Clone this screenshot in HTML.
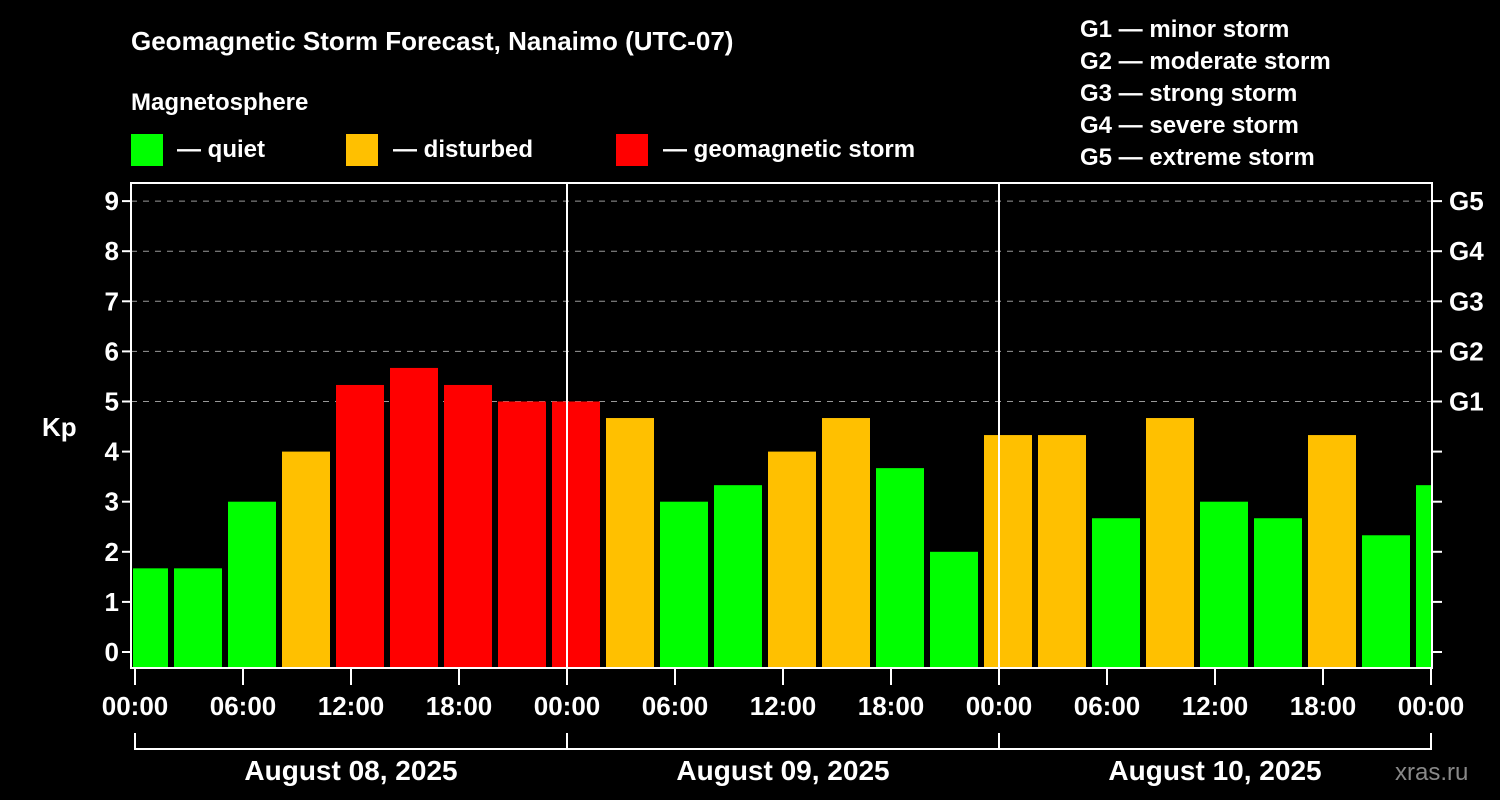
<!DOCTYPE html>
<html><head><meta charset="utf-8"><style>
html,body{margin:0;padding:0;background:#000;width:1500px;height:800px;overflow:hidden}
svg text{font-family:"Liberation Sans",sans-serif;font-weight:bold;fill:#fff}
</style></head><body>
<svg id="chart" width="1500" height="800" xmlns="http://www.w3.org/2000/svg">
<text x="131" y="50" font-size="26">Geomagnetic Storm Forecast, Nanaimo (UTC-07)</text>
<text x="131" y="110" font-size="24">Magnetosphere</text>
<g><rect x="131" y="134" width="32" height="32" fill="#00ff00"/><text x="177" y="157" font-size="24">— quiet</text></g>
<g><rect x="346" y="134" width="32" height="32" fill="#ffc000"/><text x="393" y="157" font-size="24">— disturbed</text></g>
<g><rect x="616" y="134" width="32" height="32" fill="#ff0000"/><text x="663" y="157" font-size="24">— geomagnetic storm</text></g>
<g font-size="24">
<text x="1080" y="37">G1 — minor storm</text>
<text x="1080" y="69">G2 — moderate storm</text>
<text x="1080" y="101">G3 — strong storm</text>
<text x="1080" y="133">G4 — severe storm</text>
<text x="1080" y="165">G5 — extreme storm</text>
</g>
<text x="42" y="436" font-size="26">Kp</text>
<text x="1395" y="780" font-size="24" fill="#888" style="fill:#888;font-weight:normal">xras.ru</text>
<g id="grid"></g><g id="bars"></g><g id="axes"></g>
</svg>
<script>
const kpValues=[1.67,1.67,3,4,5.33,5.67,5.33,5,5,4.67,3,3.33,4,4.67,3.67,2,4.33,4.33,2.67,4.67,3,2.67,4.33,2.33,3.33];
const yTicks=[0,1,2,3,4,5,6,7,8,9];
const gLabels=["G1","G2","G3","G4","G5"];
const xTickLabels=["00:00","06:00","12:00","18:00","00:00","06:00","12:00","18:00","00:00","06:00","12:00","18:00","00:00"];
const dayLabels=["August 08, 2025","August 09, 2025","August 10, 2025"];
const firstBarHour=-1; // local hour of first 3h block start
const NS="http://www.w3.org/2000/svg";
const L=131,R=1432,T=183,B=668,X0=135,PXH=18;
const xOf=h=>X0+h*PXH;
const yOf=v=>652-v*50.1;
function mk(tag,attrs,parent,txt){const e=document.createElementNS(NS,tag);for(const k in attrs)e.setAttribute(k,attrs[k]);if(txt!==undefined)e.textContent=txt;parent.appendChild(e);return e;}
const grid=document.getElementById('grid'),bars=document.getElementById('bars'),axes=document.getElementById('axes');
// clip
const defs=mk('defs',{},document.getElementById('chart'));
const cp=mk('clipPath',{id:'plotclip'},defs);mk('rect',{x:L+2,y:T,width:R-L-3,height:B-T},cp);
bars.setAttribute('clip-path','url(#plotclip)');
yTicks.forEach(v=>{
 if(v>=5){const g=mk('line',{x1:L,x2:R,y1:yOf(v),y2:yOf(v),stroke:'#999','stroke-width':1,'stroke-dasharray':'6,6'},grid);
 }
 const t=mk('line',{x1:L-9,x2:L,y1:yOf(v),y2:yOf(v),stroke:'#fff','stroke-width':2},axes);
 
 const t2=mk('line',{x1:R,x2:R+10,y1:yOf(v),y2:yOf(v),stroke:'#fff','stroke-width':2},axes);
 
 const lb=mk('text',{x:L-12,y:yOf(v)+9,'font-size':26,'text-anchor':'end'},axes,String(v));
 
});
gLabels.forEach((g,i)=>{const lb=mk('text',{x:R+17,y:yOf(5+i)+9,'font-size':26},axes,g);
 });
kpValues.forEach((v,i)=>{
 const h=firstBarHour+i*3;const x=xOf(h)+3;
 const c=v>=5?'#ff0000':(v>=4?'#ffc000':'#00ff00');
 const r=mk('rect',{x:x,y:yOf(v),width:48,height:B-yOf(v),fill:c},bars);
 
});
// day separators
[1,2].forEach(d=>{const l=mk('line',{x1:xOf(24*d),x2:xOf(24*d),y1:T,y2:B,stroke:'#fff','stroke-width':2},axes);
 });
const fr=mk('rect',{x:L,y:T,width:R-L,height:B-T,fill:'none',stroke:'#fff','stroke-width':2},axes);

xTickLabels.forEach((s,i)=>{const x=xOf(i*6);
 const t=mk('line',{x1:x,x2:x,y1:B,y2:685,stroke:'#fff','stroke-width':2},axes);
 
 const lb=mk('text',{x:x,y:715,'font-size':26,'text-anchor':'middle'},axes,s);
 });
const br=mk('line',{x1:xOf(0),x2:xOf(72),y1:749,y2:749,stroke:'#fff','stroke-width':2},axes);

[0,1,2,3].forEach(d=>{const t=mk('line',{x1:xOf(24*d),x2:xOf(24*d),y1:733,y2:750,stroke:'#fff','stroke-width':2},axes);
 });
dayLabels.forEach((s,i)=>{const lb=mk('text',{x:xOf(24*i+12),y:780,'font-size':28,'text-anchor':'middle'},axes,s);
 });
</script>
</body></html>
